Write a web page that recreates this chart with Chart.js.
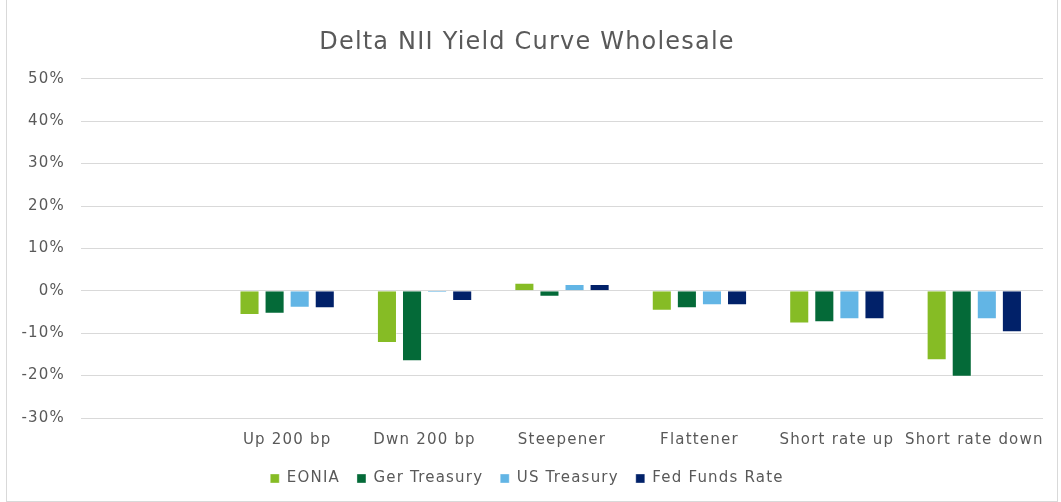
<!DOCTYPE html>
<html>
<head>
<meta charset="utf-8">
<script src="https://cdn.jsdelivr.net/npm/chart.js@4/dist/chart.umd.min.js"></script>
<style>
    html, body { margin: 0; padding: 0; background: #ffffff; }
    .chart-box {
        position: relative;
        height: 502px;
        width: 1052px;
        margin-left: 6px;
        box-sizing: border-box;
        border-left: 1px solid #d9d9d9;
        border-right: 1px solid #d9d9d9;
        border-bottom: 1px solid #d9d9d9;
    }
</style>
</head>
<body>
<div class="chart-box"><canvas id="niiChart"></canvas></div>
<script>
const CHART_TITLE = 'Delta NII Yield Curve Wholesale';
const TEXT_COLOR = '#595959';
const GRID_COLOR = '#d9d9d9';
const FONT = '"DejaVu Sans", Verdana, sans-serif';
const LETTER_SPACING = '1.2px';

// scenarios (first slot left blank on purpose)
const scenarios = ['', 'Up 200 bp', 'Dwn 200 bp', 'Steepener', 'Flattener', 'Short rate up', 'Short rate down'];

// delta NII in percent per curve
const eonia = [null, -5.7, -12.3, 1.9, -4.7, -7.7, -16.4];
const gerTreasury = [null, -5.4, -16.6, -1.4, -4.1, -7.4, -20.3];
const usTreasury = [null, -4.0, -0.4, 1.6, -3.4, -6.7, -6.7];
const fedFunds = [null, -4.1, -2.4, 1.6, -3.4, -6.7, -9.8];

const yTicks = [50, 40, 30, 20, 10, 0, -10, -20, -30];

// wider text, closer to the Verdana look
const spacingPlugin = {
    id: 'letterSpacing',
    beforeLayout(chart) { chart.ctx.letterSpacing = LETTER_SPACING; },
    beforeDraw(chart) { chart.ctx.letterSpacing = LETTER_SPACING; }
};

function makeSet(label, values, color) {
    return {
        label: label,
        data: values,
        backgroundColor: color,
        borderColor: 'rgba(255,255,255,0.35)',
        borderWidth: 1,
        categoryPercentage: 0.73,
        barPercentage: 0.8,
    };
}

const ctx = document.getElementById('niiChart').getContext('2d');

new Chart(ctx, {
    type: 'bar',
    data: {
        labels: scenarios,
        datasets: [
            makeSet('EONIA', eonia, '#86bc25'),
            makeSet('Ger Treasury', gerTreasury, '#046a38'),
            makeSet('US Treasury', usTreasury, '#62b5e5'),
            makeSet('Fed Funds Rate', fedFunds, '#012169'),
        ]
    },
    plugins: [spacingPlugin],
    options: {
        responsive: true,
        maintainAspectRatio: false,
        animation: false,
        layout: {
            padding: { left: 4, right: 14, top: 28, bottom: 5 }
        },
        plugins: {
            title: {
                display: true,
                text: CHART_TITLE,
                color: TEXT_COLOR,
                font: { family: FONT, size: 24, weight: 'normal' },
                padding: { top: 0, bottom: 22 }
            },
            legend: {
                position: 'bottom',
                labels: {
                    color: TEXT_COLOR,
                    font: { family: FONT, size: 15 },
                    boxWidth: 9,
                    boxHeight: 9,
                    padding: 17,
                }
            },
            tooltip: { enabled: false }
        },
        scales: {
            x: {
                grid: { display: false },
                border: { display: false },
                ticks: {
                    color: TEXT_COLOR,
                    font: { family: FONT, size: 15 },
                    maxRotation: 0,
                    autoSkip: false,
                    padding: 5
                }
            },
            y: {
                min: -30,
                max: 50,
                afterFit: (scale) => { scale.width = 70; },
                afterBuildTicks: (scale) => {
                    scale.ticks = yTicks.map(v => ({ value: v }));
                },
                grid: { color: GRID_COLOR, lineWidth: 1, drawTicks: false },
                border: { display: false },
                ticks: {
                    color: TEXT_COLOR,
                    font: { family: FONT, size: 15 },
                    padding: 16,
                    callback: (v) => v + '%'
                }
            }
        }
    }
});
</script>
</body>
</html>
